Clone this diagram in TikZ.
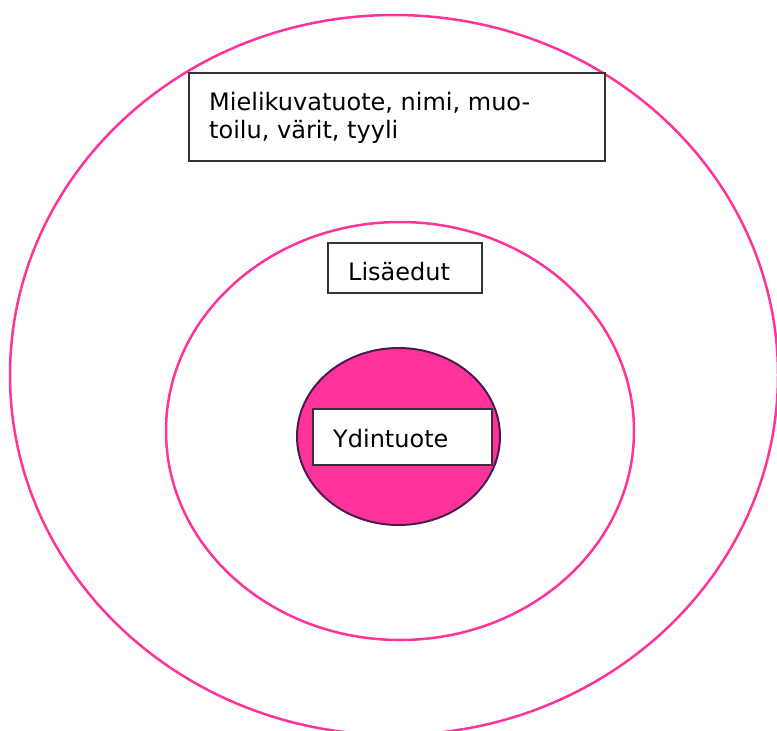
\documentclass[tikz,border=0pt]{standalone}
\usepackage{fontspec}
\setmainfont{DejaVu Sans}
\definecolor{ringpink}{HTML}{FF3399}
\definecolor{coreedge}{HTML}{4A1A55}
\definecolor{boxedge}{HTML}{333333}
\begin{document}
\begin{tikzpicture}[x=1pt,y=-1pt,
  ring/.style={draw=ringpink,line width=2.5pt},
  labelbox/.style={draw=boxedge,line width=1.3pt,fill=white},
  labeltext/.style={anchor=base west,inner sep=0pt,font=\fontsize{24}{28}\selectfont}]
\useasboundingbox (0,0) rectangle (777,731);
\begin{scope}
\clip (0,0) rectangle (777,731);
\draw[ring] (394,375) ellipse [x radius=384, y radius=360];
\end{scope}
\draw[ring] (400,431) ellipse [x radius=234, y radius=209];
\draw[fill=ringpink,draw=coreedge,line width=2pt] (398.5,436.5) ellipse [x radius=101.5, y radius=88.5];
\draw[labelbox] (189,73) rectangle (605,161);
\node[labeltext] (mieli1) at (209,110) {Mielikuvatuote, nimi, muo-};
\node[labeltext] (mieli2) at (209,138) {toilu, värit, tyyli};
\draw[labelbox] (328,243) rectangle (482,293);
\node[labeltext] (lisa) at (348,280) {Lisäedut};
\draw[labelbox] (313,409) rectangle (492,465);
\node[labeltext] (ydin) at (333,447) {Ydintuote};
\end{tikzpicture}
\end{document}
